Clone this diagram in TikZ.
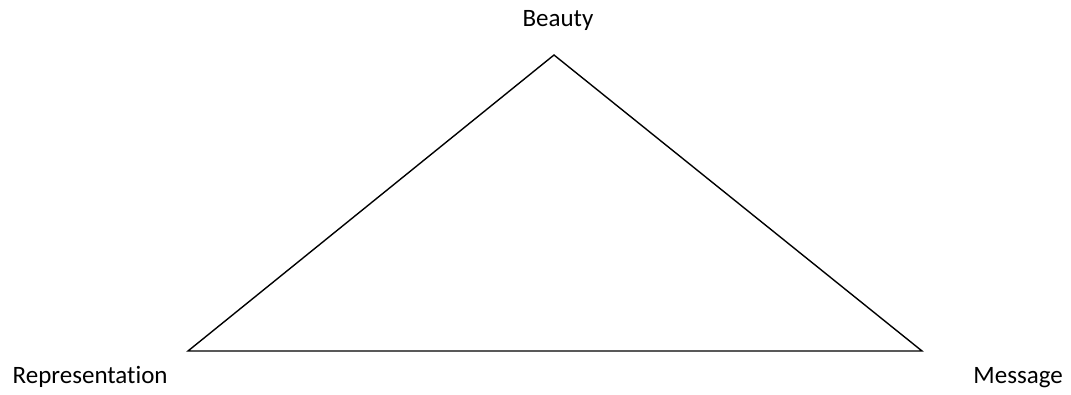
\documentclass[tikz,border=0pt]{standalone}
\usepackage{fontspec}
\setmainfont{Carlito}[RawFeature=-liga]
\begin{document}
\begin{tikzpicture}[x=1pt,y=-1pt,
  lbl/.style={inner sep=0pt,font=\fontsize{25}{30}\selectfont},
  edge/.style={line width=1.4pt,line join=miter}]
\useasboundingbox (0,0) rectangle (1071,395);
\coordinate (top) at (554,55);
\coordinate (left) at (188,351);
\coordinate (right) at (922,351);
\draw[edge] (top) -- (right) -- (left) -- cycle;
\node[lbl,anchor=base] (beauty) at (558,27) {Beauty};
\node[lbl,anchor=base west] (rep) at (12.5,383.5) {Representation};
\node[lbl,anchor=base east] (msg) at (1063,383.5) {Message};
\end{tikzpicture}
\end{document}
